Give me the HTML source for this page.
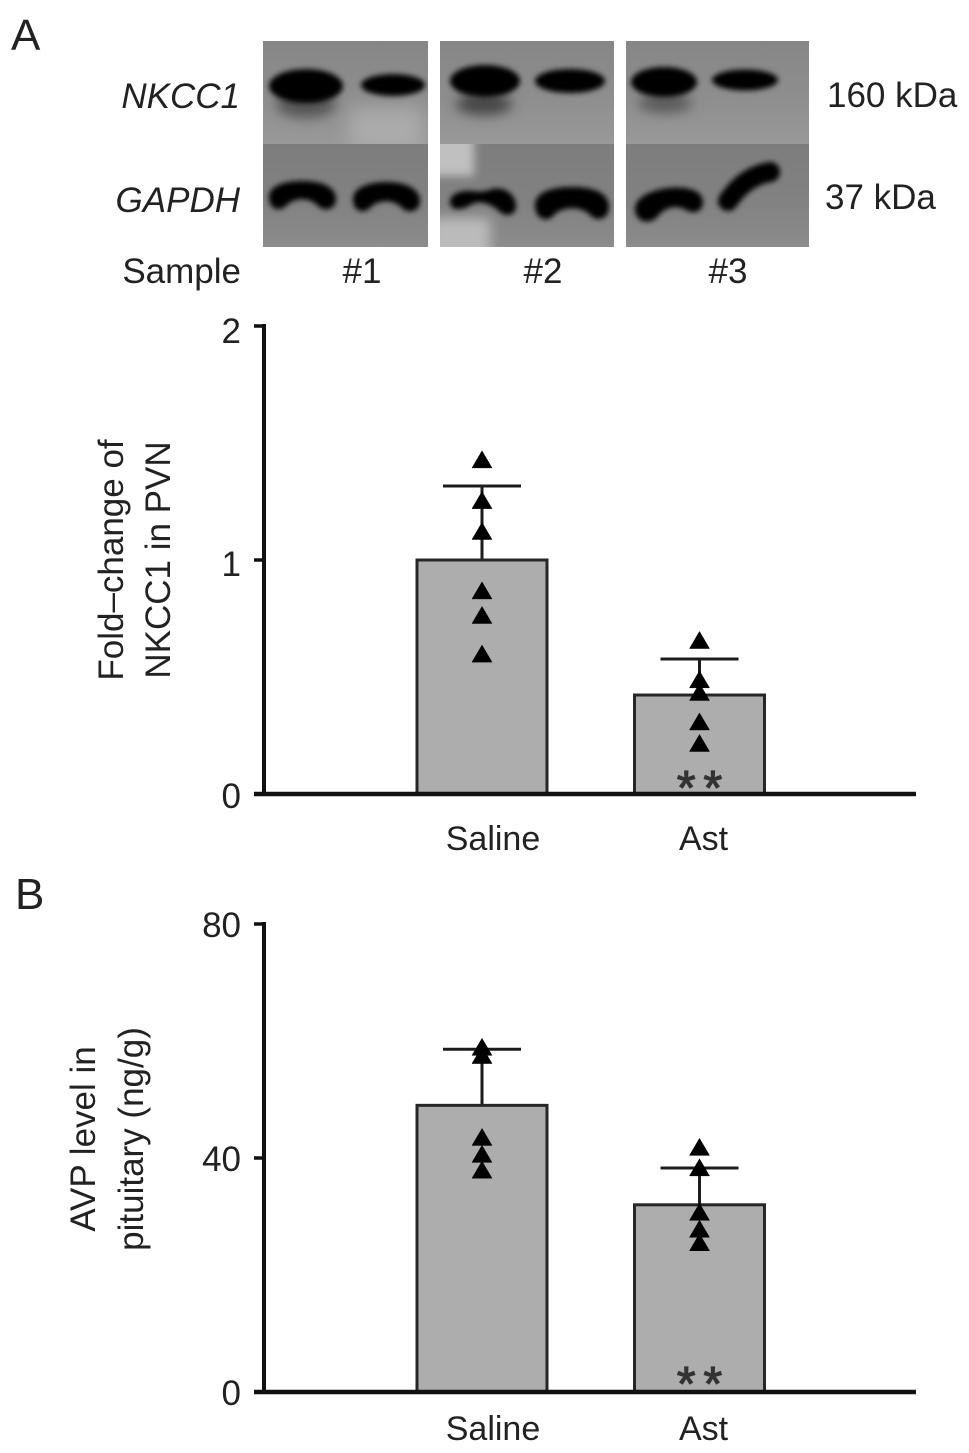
<!DOCTYPE html>
<html lang="en">
<head>
<meta charset="utf-8">
<title>NKCC1 and AVP levels</title>
<style>
html,body{margin:0;padding:0;background:#fff;}
svg{display:block;font-family:"Liberation Sans",sans-serif;fill:#222;}
text{font-size:35px;}
</style>
</head>
<body>
<svg id="fig" width="969" height="1453" viewBox="0 0 969 1453" xmlns="http://www.w3.org/2000/svg">
<defs>
<filter id="b3" filterUnits="userSpaceOnUse" x="240" y="20" width="600" height="250"><feGaussianBlur stdDeviation="2.6"/></filter>
<filter id="b5" filterUnits="userSpaceOnUse" x="240" y="20" width="600" height="250"><feGaussianBlur stdDeviation="4.5"/></filter>
<filter id="b6" filterUnits="userSpaceOnUse" x="240" y="20" width="600" height="250"><feGaussianBlur stdDeviation="6"/></filter>
<filter id="b9" filterUnits="userSpaceOnUse" x="240" y="20" width="600" height="250"><feGaussianBlur stdDeviation="9"/></filter>
<linearGradient id="topBg" x1="0" y1="0" x2="0" y2="1"><stop offset="0" stop-color="#868686"/><stop offset="0.55" stop-color="#8e8e8e"/><stop offset="1" stop-color="#999"/></linearGradient>
<linearGradient id="botBg" x1="0" y1="0" x2="0" y2="1"><stop offset="0" stop-color="#7d7d7d"/><stop offset="0.6" stop-color="#828282"/><stop offset="1" stop-color="#8c8c8c"/></linearGradient>
<clipPath id="c1t"><rect x="263" y="41" width="165" height="103"/></clipPath>
<clipPath id="c1"><rect x="263" y="41" width="165" height="206"/></clipPath>
<clipPath id="c2b"><rect x="440" y="144" width="174" height="103"/></clipPath>
<clipPath id="c2"><rect x="440" y="41" width="174" height="206"/></clipPath>
<clipPath id="c3"><rect x="626" y="41" width="183" height="206"/></clipPath>
</defs>

<text x="11" y="50" style="font-size:44px">A</text>
<text x="15" y="909" style="font-size:44px">B</text>

<g clip-path="url(#c1)">
  <rect x="263" y="41" width="165" height="103" fill="url(#topBg)"/>
  <rect x="263" y="144" width="165" height="103" fill="url(#botBg)"/>
  <g clip-path="url(#c1t)"><rect x="350" y="108" width="72" height="44" fill="#ababab" filter="url(#b9)"/></g>
  <ellipse cx="306" cy="104" rx="30" ry="14" fill="#555" filter="url(#b6)"/>
  <ellipse cx="306" cy="86" rx="37" ry="17" fill="#000" filter="url(#b3)"/>
  <ellipse cx="393" cy="85" rx="32" ry="11" fill="#000" filter="url(#b3)"/>
  <path d="M269 197C269 186 284 181 302 181C320 181 336 186 336 199C336 210 324 212 318 206C310 197 294 197 286 206C280 212 269 210 269 197Z" fill="#000" filter="url(#b3)"/>
  <path d="M353 199C353 188 368 182 386 182C404 182 420 188 420 201C420 212 408 214 402 208C394 199 378 199 370 208C364 214 353 212 353 199Z" fill="#000" filter="url(#b3)"/>
</g>
<g clip-path="url(#c2)">
  <rect x="440" y="41" width="174" height="103" fill="url(#topBg)"/>
  <rect x="440" y="144" width="174" height="103" fill="url(#botBg)"/>
  <g clip-path="url(#c2b)">
    <rect x="428" y="132" width="46" height="44" fill="#c0c0c0" filter="url(#b5)"/>
    <rect x="430" y="218" width="60" height="44" fill="#bbb" filter="url(#b6)"/>
  </g>
  <ellipse cx="484" cy="104" rx="28" ry="11" fill="#444" filter="url(#b6)"/>
  <ellipse cx="485" cy="81" rx="35" ry="16" fill="#000" filter="url(#b3)"/>
  <ellipse cx="570" cy="81" rx="35" ry="12" fill="#000" filter="url(#b3)"/>
  <path d="M450 202C450 193 462 190 472 191C480 192 484 192 492 189C504 186 516 194 516 206C516 216 506 217 500 212C492 204 480 200 472 204C464 210 450 212 450 202Z" fill="#000" filter="url(#b3)"/>
  <path d="M535 205C535 192 552 187 572 187C592 187 609 192 609 207C609 220 596 222 590 215C582 206 562 206 554 215C548 223 535 220 535 205Z" fill="#000" filter="url(#b3)"/>
</g>
<g clip-path="url(#c3)">
  <rect x="626" y="41" width="183" height="103" fill="url(#topBg)"/>
  <rect x="626" y="144" width="183" height="103" fill="url(#botBg)"/>
  <ellipse cx="665" cy="103" rx="27" ry="10" fill="#5a5a5a" filter="url(#b6)"/>
  <ellipse cx="664" cy="82" rx="33" ry="15" fill="#000" filter="url(#b3)"/>
  <ellipse cx="745" cy="80" rx="33" ry="10.5" fill="#000" filter="url(#b3)"/>
  <path d="M635 209C635 197 652 190 668 188C686 186 703 190 703 202C703 213 692 214 686 210C676 204 664 208 658 216C650 226 635 222 635 209Z" fill="#000" filter="url(#b3)"/>
  <path d="M728 201Q745 176 770 172" fill="none" stroke="#000" stroke-width="20" stroke-linecap="round" filter="url(#b3)"/>
</g>

<text x="240" y="108" text-anchor="end" font-style="italic">NKCC1</text>
<text x="240" y="212" text-anchor="end" font-style="italic">GAPDH</text>
<text x="827" y="107">160 kDa</text>
<text x="825" y="209">37 kDa</text>
<text x="241" y="283" text-anchor="end">Sample</text>
<text x="362" y="283" text-anchor="middle">#1</text>
<text x="543" y="283" text-anchor="middle">#2</text>
<text x="728" y="283" text-anchor="middle">#3</text>

<text transform="translate(123,560) rotate(-90)" text-anchor="middle">Fold–change of</text>
<text transform="translate(170,560) rotate(-90)" text-anchor="middle">NKCC1 in PVN</text>
<text transform="translate(95,1139) rotate(-90)" text-anchor="middle">AVP level in</text>
<text transform="translate(143,1139) rotate(-90)" text-anchor="middle">pituitary (ng/g)</text>

<g id="chartA"></g>
<g id="chartB"></g>
</svg>

<script>
const categories = ["Saline", "Ast"];

const nkccTicks = [0, 1, 2];
const nkccMeans = [1.0, 0.423];
const nkccErrorTops = [1.316, 0.577];
const nkccSalinePoints = [1.43, 1.256, 1.124, 0.87, 0.765, 0.60];
const nkccAstPoints = [0.658, 0.49, 0.436, 0.31, 0.218];
const nkccSignificance = ["", "**"];

const avpTicks = [0, 40, 80];
const avpMeans = [49, 32];
const avpErrorTops = [58.6, 38.3];
const avpSalinePoints = [59, 57.6, 43.6, 40.7, 38];
const avpAstPoints = [41.9, 38.4, 30.8, 27.9, 25.6];
const avpSignificance = ["", "**"];

const NS = "http://www.w3.org/2000/svg";
const INK = "#1c1c1c";

function make(parent, tag, props, content) {
  const el = document.createElementNS(NS, tag);
  for (const k in props) el.setAttribute(k, props[k]);
  if (content !== undefined) el.textContent = content;
  parent.appendChild(el);
  return el;
}

function drawChart(root, cfg) {
  const yScale = v => cfg.y0 - (v / cfg.yMax) * (cfg.y0 - cfg.yTop);
  const xCenter = i => 482 + i * 217.5;
  const barW = 130;

  cfg.means.forEach((m, i) => {
    const cx = xCenter(i);
    const errLine = make(root, "line", {x1: cx, x2: cx, y1: yScale(m), y2: yScale(cfg.errs[i]), stroke: INK, "stroke-width": 3});
    
    
    const cap = make(root, "line", {x1: cx - 39, x2: cx + 39, y1: yScale(cfg.errs[i]), y2: yScale(cfg.errs[i]), stroke: INK, "stroke-width": 3});
    
    
    const bar = make(root, "rect", {x: cx - barW / 2, y: yScale(m), width: barW, height: cfg.y0 - yScale(m), fill: "#adadad", stroke: "#262626", "stroke-width": 3});
    
    
    const label = make(root, "text", {x: i === 1 ? cx + 4 : cx + 11, y: cfg.y0 + cfg.labelOffset, "text-anchor": "middle", style: "font-size:34px"}, categories[i]);
    
    
    if (cfg.sig[i]) {
      const star = make(root, "text", {x: cx + 4, y: cfg.y0 + cfg.starOffset, "text-anchor": "middle", style: "font-size:48px;letter-spacing:8px;fill:#333;stroke:#333;stroke-width:1.2"}, cfg.sig[i]);
      
      
    }
  });

  cfg.points.forEach((series, i) => {
    series.forEach(v => {
      const cx = xCenter(i), cy = yScale(v);
      const tri = make(root, "polygon", {points: (cx - 10) + "," + (cy + 8.5) + " " + (cx + 10) + "," + (cy + 8.5) + " " + cx + "," + (cy - 8.5), fill: "#000", stroke: "#000", "stroke-width": 0.5});
      
      
    });
  });

  const yAxis = make(root, "line", {x1: 264, x2: 264, y1: cfg.yTop - 2, y2: cfg.y0 + 2, stroke: "#111", "stroke-width": 4});
  
  
  const xAxis = make(root, "line", {x1: 254, x2: 916, y1: cfg.y0, y2: cfg.y0, stroke: "#111", "stroke-width": 4.5});
  
  

  cfg.ticks.forEach(t => {
    const y = yScale(t);
    const tick = make(root, "line", {x1: 254, x2: 264, y1: y, y2: y, stroke: "#111", "stroke-width": 3.5});
    
    
    const tl = make(root, "text", {x: 241, y: y + cfg.tickDy(t), "text-anchor": "end"}, String(t));
    
    
  });
}

drawChart(document.getElementById("chartA"), {
  y0: 794, yTop: 326, yMax: 2,
  ticks: nkccTicks, means: nkccMeans, errs: nkccErrorTops,
  points: [nkccSalinePoints, nkccAstPoints], sig: nkccSignificance,
  labelOffset: 56, starOffset: 10,
  tickDy: t => t === 2 ? 17 : (t === 1 ? 16 : 14)
});

drawChart(document.getElementById("chartB"), {
  y0: 1392, yTop: 924, yMax: 80,
  ticks: avpTicks, means: avpMeans, errs: avpErrorTops,
  points: [avpSalinePoints, avpAstPoints], sig: avpSignificance,
  labelOffset: 48, starOffset: 8,
  tickDy: t => 13
});
</script>
</body>
</html>
